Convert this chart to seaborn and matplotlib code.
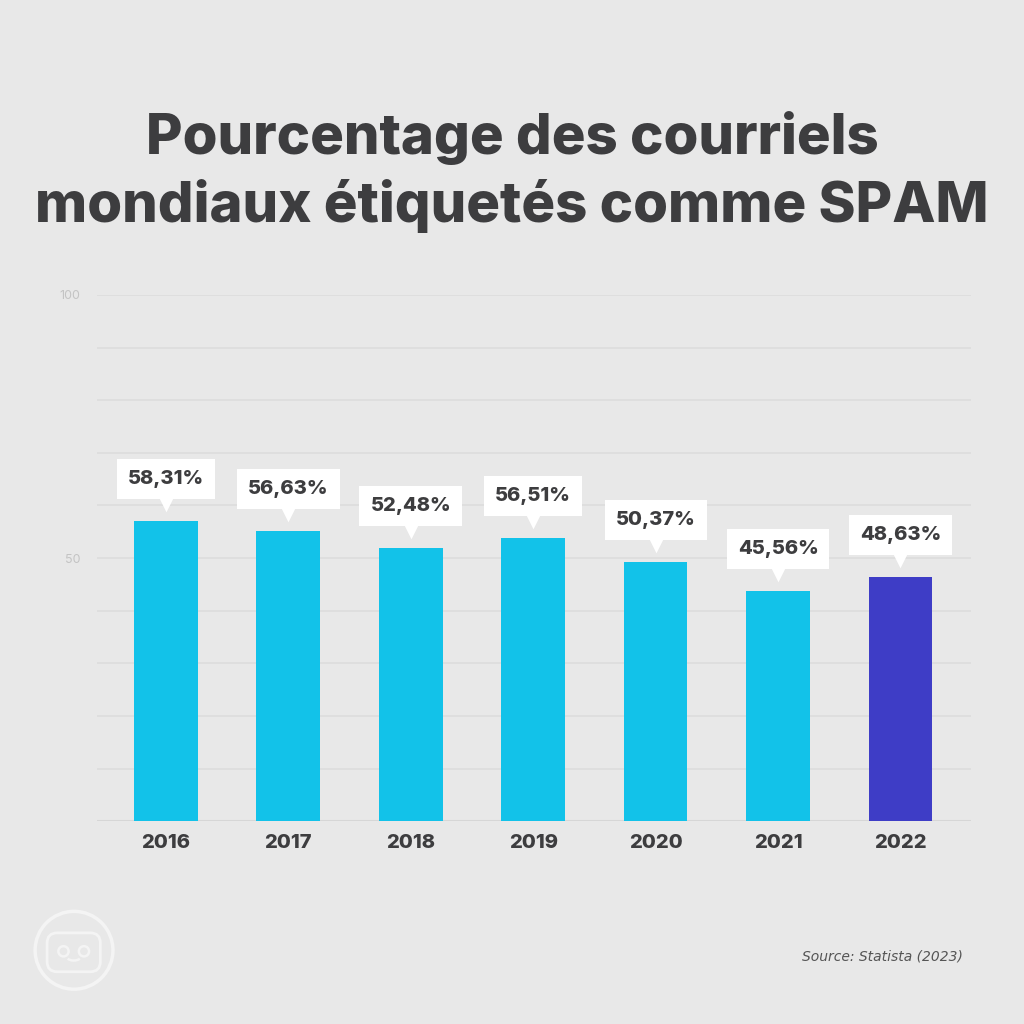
import matplotlib
matplotlib.use("Agg")
import matplotlib.pyplot as plt
import matplotlib.patches as mpatches
import seaborn as sns
import pandas as pd

years = ["2016", "2017", "2018", "2019", "2020", "2021", "2022"]
bar_values = [57.0, 55.1, 51.9, 53.8, 49.2, 43.7, 46.4]
value_labels = ["58,31%", "56,63%", "52,48%", "56,51%", "50,37%", "45,56%", "48,63%"]
ytick_values = [50, 100]
title = "Pourcentage des courriels\nmondiaux étiquetés comme SPAM"
source = "Source: Statista (2023)"

BG = "#e8e8e8"
CYAN = "#12c2e9"
INDIGO = "#3e3dc6"
DARK = "#3d3d3f"

sns.set_theme(style="white")
plt.rcParams["font.family"] = ["Inter", "DejaVu Sans"]

df = pd.DataFrame({"year": years, "value": bar_values})
colors = [CYAN] * (len(years) - 1) + [INDIGO]

fig = plt.figure(figsize=(10.24, 10.24), dpi=100, facecolor=BG)
ax = fig.add_axes([0.0947, 0.198, 0.854, 0.514])
ax.set_facecolor(BG)

sns.barplot(data=df, x="year", y="value", hue="year", palette=colors,
            legend=False, width=0.52, ax=ax, saturation=1, linewidth=0)

ax.set_ylim(0, 100)
ax.set_xlim(-0.563, 6.58)
for y in range(10, 101, 10):
    ax.axhline(y, color="#dcdcdc", lw=1.2, zorder=0)
ax.axhline(0, color="#d6d6d6", lw=1.5, zorder=0)

for s in ax.spines.values():
    s.set_visible(False)
ax.set_yticks(ytick_values)
ax.set_yticklabels([str(v) for v in ytick_values], color="#c4c4c4", fontsize=9)
ax.tick_params(axis="y", length=0, pad=12)
ax.tick_params(axis="x", length=0, pad=9)
for lbl in ax.get_xticklabels():
    lbl.set_fontsize(14.5)
    lbl.set_fontweight(800)
    lbl.set_color(DARK)
ax.set_xlabel("")
ax.set_ylabel("")

for i, (v, lab) in enumerate(zip(bar_values, value_labels)):
    ax.scatter([i], [v + 3.6], marker="v", s=200, color="white", zorder=4, linewidths=0)
    ax.text(i, v + 8.0, lab, ha="center", va="center", fontsize=14.5,
            fontweight=800, color=DARK, zorder=5,
            bbox=dict(boxstyle="square,pad=0.55", fc="white", ec="none"))

fig.text(0.5, 0.832, title, ha="center", va="center", fontsize=40.5,
         fontweight=800, color=DARK, linespacing=1.32)

fig.text(0.94, 0.066, source, ha="right", va="center", fontsize=10,
         style="italic", color="#555555", family=["DejaVu Sans"])

# logo
lc = "#f4f4f4"
fig.patches.append(mpatches.Circle((0.0723, 0.072), 0.038, transform=fig.transFigure,
                                   fill=False, ec=lc, lw=2.5))
fig.patches.append(mpatches.FancyBboxPatch((0.050, 0.055), 0.044, 0.030,
                                           boxstyle="round,pad=0.004,rounding_size=0.01",
                                           transform=fig.transFigure, fill=False, ec=lc, lw=2))
for ex in (0.062, 0.082):
    fig.patches.append(mpatches.Circle((ex, 0.071), 0.005, transform=fig.transFigure,
                                       fill=False, ec=lc, lw=1.8))
fig.patches.append(mpatches.Arc((0.072, 0.066), 0.014, 0.008, theta1=200, theta2=340,
                                transform=fig.transFigure, ec=lc, lw=1.8))

fig.savefig("out.png", dpi=100, facecolor=BG)
